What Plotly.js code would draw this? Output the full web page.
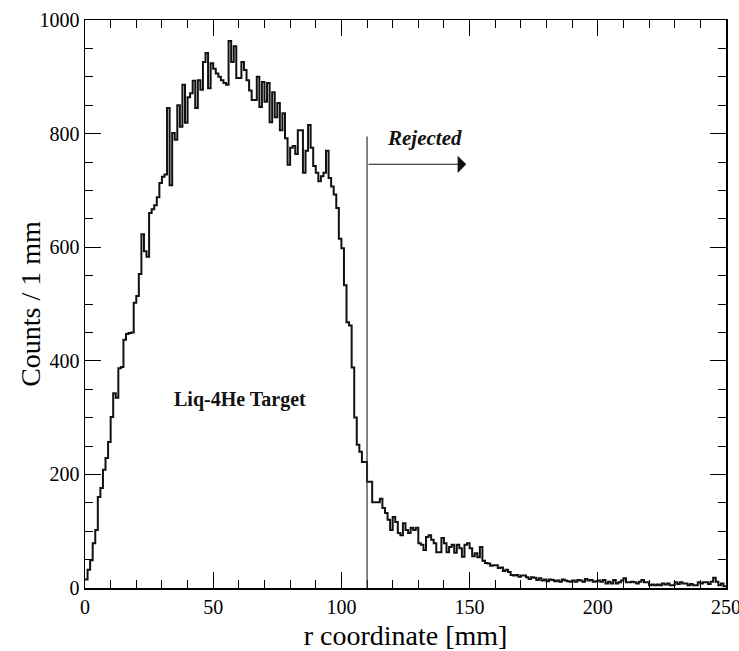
<!DOCTYPE html>
<html>
<head>
<meta charset="utf-8">
<script src="https://cdn.plot.ly/plotly-3.0.1.min.js"></script>
<style>html,body{margin:0;padding:0;background:#fff;}#chart{width:739px;height:651px;}</style>
</head>
<body>
<div id="chart"></div>
<script>
// Histogram: r coordinate, 1 mm bins from 0 to 250 mm
const binStart = 0;
const binWidth = 1;
const counts = [
  15, 32, 49, 79, 102, 160, 176, 208, 229, 257,
  301, 343, 335, 387, 389, 437, 447, 449, 450, 502,
  514, 553, 623, 593, 583, 660, 667, 674, 688, 713,
  724, 728, 845, 709, 801, 789, 850, 812, 886, 819,
  864, 871, 893, 845, 894, 877, 926, 942, 880, 924,
  914, 906, 900, 894, 889, 886, 963, 926, 954, 898,
  898, 926, 912, 894, 876, 859, 859, 900, 847, 891,
  856, 889, 820, 873, 829, 854, 806, 836, 792, 745,
  775, 778, 764, 806, 806, 731, 770, 815, 775, 743,
  731, 716, 725, 731, 770, 722, 707, 693, 669, 615,
  598, 533, 468, 462, 388, 300, 252, 240, 222, 222,
  187, 187, 151, 151, 151, 157, 141, 132, 120, 102,
  125, 116, 97, 93, 114, 102, 97, 106, 102, 106,
  79, 76, 67, 90, 93, 85, 79, 63, 63, 88,
  79, 63, 72, 76, 62, 76, 70, 55, 76, 79,
  70, 56, 61, 54, 72, 48, 44, 43, 39, 40,
  40, 35, 36, 30, 32, 28, 23, 22, 23, 20,
  22, 22, 19, 16, 19, 18, 14, 17, 13, 15,
  12, 15, 14, 12, 13, 11, 15, 13, 12, 11,
  13, 11, 14, 13, 11, 16, 13, 14, 11, 12,
  13, 11, 14, 8, 11, 8, 14, 8, 10, 13,
  17, 10, 10, 11, 10, 8, 11, 14, 10, 10,
  5, 6, 5, 6, 5, 8, 6, 8, 5, 5,
  10, 7, 10, 8, 8, 5, 7, 5, 5, 10,
  8, 10, 10, 7, 11, 18, 11, 5, 8, 3
];
const xTickVals = [0, 50, 100, 150, 200, 250];
const xTickText = ["0", "50", "100", "150", "200", "250"];
const yTickVals = [0, 200, 400, 600, 800, 1000];
const yTickText = ["0", "200", "400", "600", "800", "1000"];
const cutValue = 110;
const cutTop = 795;
const arrowLevel = 746;
const arrowEnd = 148.7;
const labelTarget = "Liq-4He Target";
const labelRejected = "Rejected";
const xTitle = "r coordinate [mm]";
const yTitle = "Counts / 1 mm";

// step outline: bin low edges, plus closing point at the last high edge
const xs = counts.map((_, i) => binStart + i * binWidth);
xs.push(binStart + counts.length * binWidth);
const ys = counts.slice();
ys.push(counts[counts.length - 1]);

const serif = "Liberation Serif";

const trace = {
  type: "scatter",
  mode: "lines",
  x: xs,
  y: ys,
  line: {shape: "hv", color: "#111", width: 2},
  hoverinfo: "skip",
  showlegend: false
};

const layout = {
  width: 739,
  height: 651,
  margin: {l: 85, r: 13, t: 20, b: 63},
  paper_bgcolor: "#fff",
  plot_bgcolor: "#fff",
  font: {family: serif, color: "#000"},
  showlegend: false,
  xaxis: {
    range: [0, 250],
    tickvals: xTickVals,
    ticktext: xTickText,
    ticks: "inside",
    ticklen: 16,
    tickwidth: 1,
    tickcolor: "#000",
    ticklabeloverflow: "allow",
    minor: {dtick: 10, ticks: "inside", ticklen: 8, tickwidth: 1, tickcolor: "#000", showgrid: false},
    showline: true,
    linecolor: "#000",
    linewidth: 1.5,
    mirror: "allticks",
    showgrid: false,
    zeroline: false,
    tickfont: {family: serif, size: 20, color: "#000"},
    title: {text: xTitle, font: {family: serif, size: 28, color: "#000"}, standoff: 10}
  },
  yaxis: {
    range: [0, 1000],
    tickvals: yTickVals,
    ticktext: yTickText,
    ticks: "inside",
    ticklen: 16,
    tickwidth: 1,
    tickcolor: "#000",
    ticklabeloverflow: "allow",
    minor: {dtick: 50, ticks: "inside", ticklen: 8, tickwidth: 1, tickcolor: "#000", showgrid: false},
    showline: true,
    linecolor: "#000",
    linewidth: 1.5,
    mirror: "allticks",
    showgrid: false,
    zeroline: false,
    tickfont: {family: serif, size: 20, color: "#000"}
  },
  shapes: [
    {type: "line", xref: "x", yref: "y", x0: cutValue, x1: cutValue, y0: 0, y1: cutTop,
     line: {color: "#333", width: 1.2}}
  ],
  annotations: [
    {x: -0.086, y: 0.5, xref: "paper", yref: "paper", text: yTitle, textangle: -90,
     showarrow: false, font: {family: serif, size: 28, color: "#000"}, xanchor: "center", yanchor: "middle"},
    {x: arrowEnd, y: arrowLevel, ax: cutValue, ay: arrowLevel, axref: "x", ayref: "y",
     xref: "x", yref: "y", text: "", showarrow: true, arrowhead: 1, arrowsize: 2.4,
     arrowwidth: 1.2, arrowcolor: "#111"},
    {x: 132.5, y: 792, xref: "x", yref: "y", text: "<b><i>" + labelRejected + "</i></b>",
     showarrow: false, font: {family: serif, size: 21, color: "#111"}, xanchor: "center", yanchor: "middle"},
    {x: 60.6, y: 331, xref: "x", yref: "y", text: "<b>" + labelTarget + "</b>",
     showarrow: false, font: {family: serif, size: 20, color: "#111"}, xanchor: "center", yanchor: "middle"}
  ]
};

Plotly.newPlot("chart", [trace], layout, {staticPlot: true, displayModeBar: false});
</script>
</body>
</html>
